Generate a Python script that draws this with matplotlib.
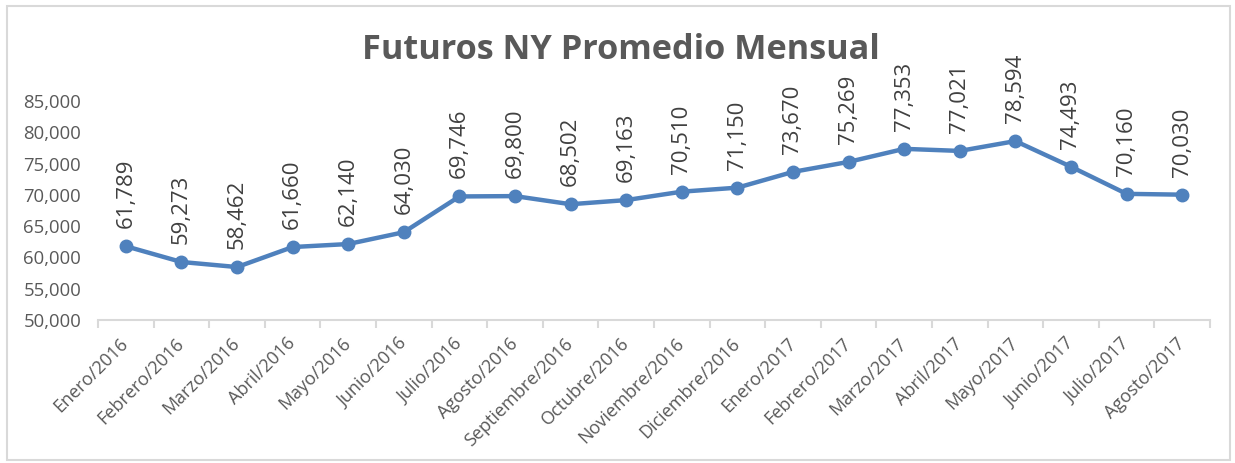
import matplotlib
matplotlib.use("Agg")
import matplotlib.pyplot as plt
from matplotlib.patches import Rectangle
from matplotlib.ticker import FuncFormatter, FixedLocator

months = ["Enero/2016", "Febrero/2016", "Marzo/2016", "Abril/2016", "Mayo/2016",
          "Junio/2016", "Julio/2016", "Agosto/2016", "Septiembre/2016", "Octubre/2016",
          "Noviembre/2016", "Diciembre/2016", "Enero/2017", "Febrero/2017", "Marzo/2017",
          "Abril/2017", "Mayo/2017", "Junio/2017", "Julio/2017", "Agosto/2017"]
values = [61789, 59273, 58462, 61660, 62140, 64030, 69746, 69800, 68502, 69163,
          70510, 71150, 73670, 75269, 77353, 77021, 78594, 74493, 70160, 70030]
y_ticks = [50000, 55000, 60000, 65000, 70000, 75000, 80000, 85000]
title = "Futuros NY Promedio Mensual"

plt.rcParams['font.family'] = ['Open Sans', 'DejaVu Sans']

W, H = 1235, 463
fig = plt.figure(figsize=(W / 100, H / 100), dpi=100)
fig.patches.append(Rectangle((7 / W, 1 - 460 / H), (1230 - 7) / W, (460 - 6) / H,
                             transform=fig.transFigure, fill=False,
                             edgecolor="#D9D9D9", linewidth=1.5))

left, right, top, bottom = 98, 1210, 101, 320
ax = fig.add_axes([left / W, 1 - bottom / H, (right - left) / W, (bottom - top) / H])
x = list(range(len(values)))
line_color = "#4F81BD"
ax.plot(x, values, color=line_color, linewidth=3.2, marker="o", markersize=9,
        markerfacecolor=line_color, markeredgecolor=line_color, clip_on=False, zorder=3)

ax.set_xlim(-0.5, len(values) - 0.5)
ax.set_ylim(y_ticks[0], y_ticks[-1])
ax.set_yticks(y_ticks)
ax.yaxis.set_major_formatter(FuncFormatter(lambda v, p: f"{int(v):,}"))
ax.tick_params(axis="y", length=0, pad=12, labelsize=13.3, labelcolor="#595959")

ax.xaxis.set_major_locator(FixedLocator([i - 0.5 for i in range(len(values) + 1)]))
ax.xaxis.set_minor_locator(FixedLocator(x))
ax.set_xticklabels([], minor=False)
ax.set_xticklabels(months, minor=True, rotation=45, ha="right", va="center",
                   rotation_mode="anchor", fontsize=13, color="#595959")
ax.tick_params(axis="x", which="major", length=6, color="#D9D9D9", width=1.5, direction="out")
ax.tick_params(axis="x", which="minor", length=0, pad=15)

for s in ["left", "right", "top"]:
    ax.spines[s].set_visible(False)
ax.spines["bottom"].set_color("#D9D9D9")
ax.spines["bottom"].set_linewidth(1.5)

for xi, v in zip(x, values):
    ax.annotate(f"{v:,}", (xi, v), xytext=(0, 13), textcoords="offset points",
                rotation=90, ha="center", va="bottom", fontsize=16,
                color="#404040", annotation_clip=False)

fig.text(621 / W, 1 - 50 / H, title, ha="center", va="center", fontsize=24.7,
         fontweight="bold", color="#595959")

fig.savefig("out.png", dpi=100)
